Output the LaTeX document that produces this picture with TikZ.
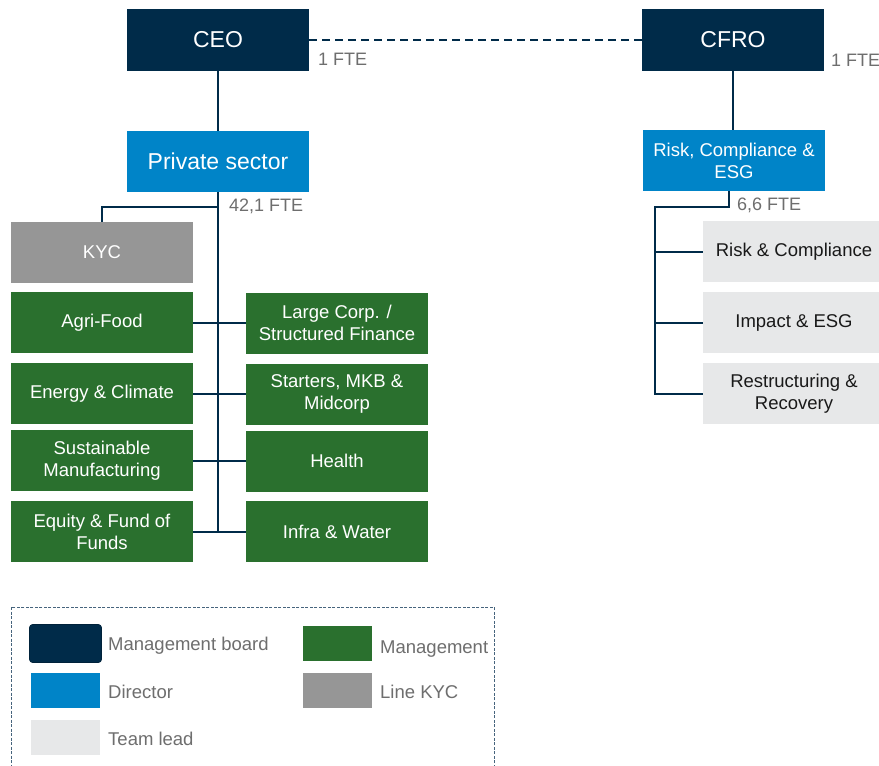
\documentclass[tikz,border=0pt]{standalone}
\usepackage{fontspec}
\setmainfont{Liberation Sans}
\definecolor{navy}{RGB}{0,43,73}
\definecolor{dirblue}{RGB}{0,132,200}
\definecolor{mgreen}{RGB}{42,112,46}
\definecolor{kycgray}{RGB}{150,150,150}
\definecolor{teamgray}{RGB}{231,232,233}
\definecolor{ftegray}{RGB}{110,110,110}
\definecolor{legborder}{RGB}{70,100,125}
\begin{document}
\begin{tikzpicture}[x=1pt,y=-1pt,
  orgbox/.style={rectangle, inner sep=0pt, minimum width=182pt, minimum height=61pt, align=center, text=white, font=\fontsize{18.5}{22}\selectfont},
  bigbox/.style={orgbox, fill=navy, minimum height=62pt, font=\fontsize{23}{26}\selectfont},
  dirbox/.style={orgbox, fill=dirblue},
  mgbox/.style={orgbox, fill=mgreen},
  kycbox/.style={orgbox, fill=kycgray},
  teambox/.style={orgbox, fill=teamgray, text={black!90}},
  fte/.style={anchor=base west, inner sep=0pt, text=ftegray, font=\fontsize{18}{21}\selectfont},
  conn/.style={draw=navy, line width=2pt},
  swatch/.style={rectangle, inner sep=0pt, minimum width=69pt, minimum height=35pt},
  legtext/.style={anchor=base west, inner sep=0pt, text=ftegray, font=\fontsize{18.5}{22}\selectfont}
]
\useasboundingbox (0,0) rectangle (879,766);
\fill[white] (0,0) rectangle (879,766);

% top level
\node[bigbox] (ceo) at (218,40) {CEO};
\node[bigbox] (cfro) at (733,40) {CFRO};
\draw[conn, dash pattern=on 8pt off 5pt] (ceo.east) -- (cfro.west);
\node[fte] (fteceo) at (318,65) {1 FTE};
\node[fte] (ftecfro) at (831,66) {1 FTE};

% directors
\node[dirbox, font=\fontsize{23}{26}\selectfont] (priv) at (218,161.5) {Private sector};
\node[dirbox] (risk) at (734,160.5) {Risk, Compliance \&\\ESG};
\node[fte] (ftepriv) at (229,211) {42,1 FTE};
\node[fte] (fterisk) at (737,210) {6,6 FTE};

\draw[conn] (ceo.south) -- (ceo.south |- priv.north);
\draw[conn] (cfro.south) -- (cfro.south |- risk.north);

% private sector units
\node[kycbox] (kyc) at (102,252.5) {KYC};
\node[mgbox] (agri) at (102,322.5) {Agri-Food};
\node[mgbox] (large) at (337,323) {Large Corp. /\\Structured Finance};
\node[mgbox] (energy) at (102,393.5) {Energy \& Climate};
\node[mgbox] (starters) at (337,394) {Starters, MKB \&\\Midcorp};
\node[mgbox] (sust) at (102,460.5) {Sustainable\\Manufacturing};
\node[mgbox] (health) at (337,461) {Health};
\node[mgbox] (equity) at (102,531.5) {Equity \& Fund of\\Funds};
\node[mgbox] (infra) at (337,531.5) {Infra \& Water};

\coordinate (kycj) at (218,207);
\draw[conn] (priv.south) -- (priv.south |- equity.east);
\draw[conn] (kycj) -| (kyc.north);
\draw[conn] (agri.east) -- (agri.east -| large.west);
\draw[conn] (energy.east) -- (energy.east -| starters.west);
\draw[conn] (sust.east) -- (sust.east -| health.west);
\draw[conn] (equity.east) -- (infra.west);

% risk teams
\node[teambox] (tl1) at (794,251.5) {Risk \& Compliance};
\node[teambox] (tl2) at (794,322.5) {Impact \& ESG};
\node[teambox] (tl3) at (794,393.5) {Restructuring \&\\Recovery};

\coordinate (rj) at (729,207);
\coordinate (rl) at (655,207);
\draw[conn] (risk.south -| rj) -- (rj) -- (rl) -- (rl |- tl3.west) -- (tl3.west);
\draw[conn] (rl |- tl1.west) -- (tl1.west);
\draw[conn] (rl |- tl2.west) -- (tl2.west);

% legend
\draw[legborder, line width=1pt, dash pattern=on 3pt off 1.5pt] (11,607) rectangle (494,790);
\node[swatch, fill=navy, draw=navy!80!black, line width=0.6pt, rounded corners=3pt, minimum width=72pt, minimum height=38pt] (lgmb) at (65.5,643.5) {};
\node[swatch, fill=dirblue] (lgdir) at (65.5,690.5) {};
\node[swatch, fill=teamgray] (lgtl) at (65.5,737.5) {};
\node[swatch, fill=mgreen] (lgmg) at (337.5,643.5) {};
\node[swatch, fill=kycgray] (lgkyc) at (337.5,690.5) {};
\node[legtext] (tmb) at (108,650) {Management board};
\node[legtext] (tdir) at (108,698) {Director};
\node[legtext] (ttl) at (108,745) {Team lead};
\node[legtext] (tmg) at (380,653) {Management};
\node[legtext] (tkyc) at (380,698) {Line KYC};
\end{tikzpicture}
\end{document}
